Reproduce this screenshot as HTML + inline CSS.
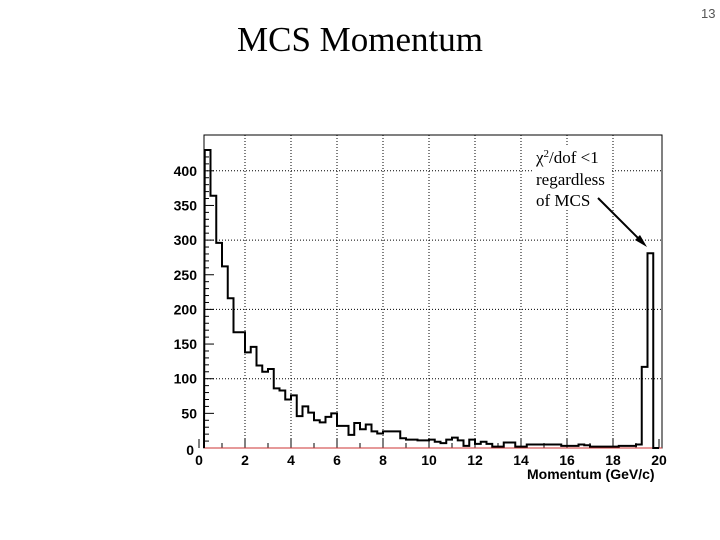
<!DOCTYPE html>
<html><head><meta charset="utf-8"><style>
body{margin:0;background:#fff;width:720px;height:540px;overflow:hidden}
svg{display:block}
</style></head><body>
<svg id="c" width="720" height="540" xmlns="http://www.w3.org/2000/svg">
<text x="237" y="51" font-family="Liberation Serif, serif" font-size="35">MCS Momentum</text>
<text x="701" y="18" font-family="Liberation Sans, sans-serif" font-size="13" fill="#555">13</text>
<g id="plot"></g>
<rect x="534" y="146" width="76" height="64" fill="#fff"/>
<text font-family="Liberation Serif, serif" font-size="17"><tspan x="536" y="163">χ<tspan dy="-6" font-size="11">2</tspan><tspan dy="6">/dof &lt;1</tspan></tspan><tspan x="536" y="185">regardless</tspan><tspan x="536" y="206">of MCS</tspan></text>
<line x1="598" y1="198" x2="642" y2="242" stroke="#000" stroke-width="2"/>
<polygon points="647,247 635,240 640,235" fill="#000"/>
<text x="527" y="479" font-family="Liberation Sans, sans-serif" font-size="14" font-weight="bold">Momentum (GeV/c)</text>
</svg>
<script>
const binStart = 0.25;
const binWidth = 0.25;
const counts = [430,364,296,262,216,167,167,138,146,119,110,114,86,83,70,76,46,60,51,40,37,45,50,32,32,19,36,
27,34,24,21,24,24,24,14,12,12,11,11,12,9,7,12,15,11,3,12,6,9,6,2,2,8,8,2,2,5,5,5,5,5,5,3,3,3,5,4,2,2,2,2,2,3,3,3,5,117,281,0];
const yTicks = [0,50,100,150,200,250,300,350,400];
const xTicks = [0,2,4,6,8,10,12,14,16,18,20];
const NS='http://www.w3.org/2000/svg';
const g=document.getElementById('plot');
const X=u=>199+23*u, Y=v=>448-0.693*v;
const L=204,R=662,T=135,B=448;
function mk(t,a){const e=document.createElementNS(NS,t);for(const k in a)e.setAttribute(k,a[k]);g.appendChild(e);return e;}
const fr=mk('rect',{x:L,y:T,width:R-L,height:B-T,fill:'none',stroke:'#000','stroke-width':1});


xTicks.forEach(t=>{if(t>0&&t<20){const l=mk('line',{x1:X(t),x2:X(t),y1:T,y2:B,stroke:'#000','stroke-dasharray':'1,2'});

}
const tk=mk('line',{x1:X(t),x2:X(t),y1:B,y2:B-9,stroke:'#000'});


const tx=mk('text',{x:X(t),y:465,'text-anchor':'middle','font-family':'Liberation Sans, sans-serif','font-size':14,'font-weight':'bold'});tx.textContent=t;

});
for(let u=1;u<20;u+=2){mk('line',{x1:X(u),x2:X(u),y1:B,y2:B-5,stroke:'#000'});}
yTicks.forEach(v=>{if(v%100==0&&v>0){const l=mk('line',{x1:L,x2:R,y1:Y(v),y2:Y(v),stroke:'#000','stroke-dasharray':'1,2'});

}
mk('line',{x1:L,x2:L+10,y1:Y(v),y2:Y(v),stroke:'#000'});
const tx=mk('text',{x:v==0?194:197,y:Y(v)+(v==0?7:5),'text-anchor':'end','font-family':'Liberation Sans, sans-serif','font-size':14,'font-weight':'bold'});tx.textContent=v;

});
for(let v=10;v<440;v+=10){if(v%50)mk('line',{x1:L,x2:L+5,y1:Y(v),y2:Y(v),stroke:'#000'});}
mk('line',{x1:L,x2:R,y1:B,y2:B,stroke:'#c33','stroke-width':1});
let d='M'+L+','+B;
counts.forEach((c,i)=>{const x0=Math.max(X(binStart+i*binWidth),L),x1=X(binStart+(i+1)*binWidth);d+=' L'+x0+','+Y(c)+' L'+x1+','+Y(c);});
d+=' L'+X(20)+','+B;
const p=mk('path',{d:d,fill:'none',stroke:'#000','stroke-width':2});


</script>
</body></html>
